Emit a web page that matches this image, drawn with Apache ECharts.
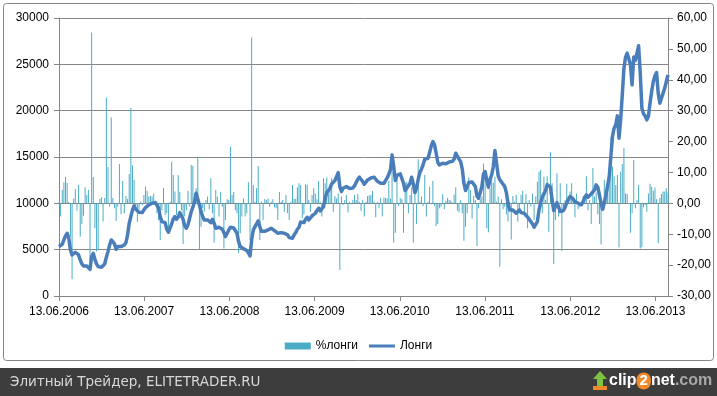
<!DOCTYPE html>
<html>
<head>
<meta charset="utf-8">
<script src="https://cdn.jsdelivr.net/npm/echarts@6/dist/echarts.min.js"></script>
<style>
  html, body { margin: 0; padding: 0; background: #fff; }
  #chart { width: 717px; height: 396px; }
</style>
</head>
<body>
<div id="chart"></div>
<script>
// weekly COT-style data, Tuesdays from 13.06.2006
const seriesNames = ['%лонги', 'Лонги']
const startDate = Date.UTC(2006, 5, 13)
const weekMs = 7 * 24 * 3600 * 1000
const tickYears = [2006, 2007, 2008, 2009, 2010, 2011, 2012, 2013]
const footerText = 'Элитный Трейдер, ELITETRADER.RU'

// Лонги (left axis)
const longs = [
  5330, 5400, 5600, 6050, 6480, 6770, 6230, 4970, 4430, 4600, 4720, 4680, 4430, 3890, 3460, 3240,
  3170, 3240, 3350, 2880, 4250, 4600, 3960, 3460, 3170, 3100, 3100, 3170, 3460, 4180, 4790, 5500,
  6050, 5980, 5620, 5040, 5330, 5470, 5330, 5400, 5500, 5760, 6590, 7850, 8570, 9290, 9720,
  9360, 9220, 9040, 8930, 9000, 9290, 9540, 9720, 9830, 9900, 10010, 10150, 10080, 9940, 9470, 8570,
  8030, 8140, 7920, 7200, 6880, 6950, 7780, 8320, 8570, 8280, 8500, 9000, 8930, 8280, 7560, 7310,
  7670, 8390, 9110, 9580, 10190, 11090, 10910, 9830, 9110, 8570, 8210, 8030, 8210, 8280, 7920,
  8280, 7850, 7310, 7420, 7420, 7310, 7200, 6840, 6410, 6590, 7130, 7420, 7490, 7340, 7060, 6770,
  5870, 5330, 5180, 5110, 4970, 4900, 4680, 4320, 6050, 7130, 7310, 7780, 8100, 7490, 6980, 6980,
  6980, 7060, 7130, 7200, 7310, 7200, 7060, 6910, 6770, 6770, 6840, 6840, 6770, 6770, 6590, 6300,
  6300, 6230, 6590, 6840, 7200, 7420, 7990, 7780, 7920, 8280, 8500, 8210, 8420, 8640, 8710, 8930,
  9220, 9470, 9180, 9000, 9650, 10550, 11160, 11380, 11630, 12100, 12060, 12460, 12890, 13320, 11810, 11270,
  11630, 11630, 11810, 11630, 11590, 11630, 11660, 11880, 12240, 12600, 12820, 12670, 12350, 12060, 12240, 12530,
  12600, 12740, 12820, 12820, 12600, 12380, 12240, 12170, 12020, 12170, 12460, 12740, 13140, 13610, 15230, 13970,
  12460, 13030, 13070, 13180, 13070, 12170, 11380, 11630, 11450, 12170, 12820, 12100, 11160, 11630, 12600, 13320,
  13680, 14150, 14760, 14760, 14870, 15480, 16200, 16670, 16310, 15410, 14400, 14150, 14220, 14330, 14220, 14260,
  14330, 14470, 14470, 14540, 14760, 15410, 15410, 14760, 14510, 13680, 12170, 11380, 11520, 12240, 12380, 12310,
  12240, 11810, 10800, 10550, 10730, 11810, 13180, 13430, 12530, 11740, 12600, 13070, 13970, 15700, 15700, 12960,
  12530, 12310, 12100, 11810, 11160, 10010, 9290, 9110, 9290, 9220, 8930, 9070, 9290, 9000, 9110, 8930,
  8780, 8500, 8280, 8100, 7780, 7420, 7340, 8030, 9290, 10080, 10660, 11020, 11380, 12020, 12170, 11740,
  10440, 9220, 9430, 10080, 10190, 9110, 8930, 9220, 9580, 10080, 10440, 10730, 10730, 10440, 10150, 10010,
  10010, 9940, 9860, 10150, 10660, 10910, 10660, 10660, 11020, 11160, 11450, 11990, 11740, 10910, 10010,
  9360, 10080, 10910, 11880, 12890, 15050, 17210, 18110, 18470, 19440, 17030, 19010, 21710, 24590, 25780, 26210,
  26140, 24950, 22790, 25780, 25420, 25560, 27000, 24050, 20270, 19660, 19440, 19010, 19370, 20810, 22070, 23150,
  23760, 24120, 21890, 20810, 21350, 21890, 22430, 23150, 23870
]

// %лонги (right axis)
const pctLongs = [
  0.3, -4.3, 4.3, 6.8, 8.5, 6.6, 0.4, -10.8, -24.6, 1.6, 4.6, -2.4, 5.9, -10.8, -6.7, -4.0,
  5.2, 2.7, 4.3, -22.0, 55.3, 8.5, -8.1, -15.5, -15.1, 1.4, 2.0, -5.9, 1.7, 34.3, 11.8, -1.0,
  27.8, 1.7, -1.6, -5.7, -1.0, 12.7, -3.5, 7.2, -3.2, 2.4, 1.4, 9.5, 30.9, 12.3, 7.6,
  -1.0, -6.0, -2.0, 0.5, -0.5, 2.7, 5.4, 4.1, 2.2, 2.4, 2.2, 3.2, -0.5, -3.2, -5.4, -11.9,
  -2.2, 5.0, -3.8, -3.2, -9.7, 0.5, 13.5, 9.2, 3.8, -3.8, 9.1, 3.7, -2.2, -13.2, -4.3, -2.2,
  4.1, -1.0, 12.4, 12.2, 3.2, 4.9, 15.1, -15.1, -7.6, -1.6, -2.7, 1.1, 2.2, -1.9, 8.1,
  -3.2, -12.7, 4.3, 2.2, -4.3, 3.7, -1.1, -14.6, -5.4, 1.3, 1.1, 18.3, 2.7, 3.7, -2.2, -3.2,
  -16.2, -9.7, -4.3, 1.6, -4.3, -3.2, 6.8, -11.9, 53.7, 5.9, 0.5, 4.9, 12.1, -11.9, 0.5, -5.4,
  1.4, 1.1, 1.6, -1.1, 0.5, 1.3, -1.3, -1.6, -5.4, 3.7, 0.5, 1.1, -2.7, 2.7, -3.2, -5.4,
  0.5, 5.9, 1.6, 1.4, 5.2, 6.5, 5.9, -4.9, -3.6, 6.1, 6.1, 1.1, -2.7, 2.7, 4.9, 3.2,
  1.3, 7.2, 0.5, -4.3, 8.1, 6.5, 8.4, 3.2, 5.4, 8.1, -2.7, 2.4, 1.6, 3.2, -21.6, 2.2,
  -0.5, 1.1, 2.7, -3.0, 0.5, -0.3, 1.1, 2.7, 1.1, 3.0, 0.5, -2.4, 1.1, -4.3, 0.5, 2.4,
  2.5, 2.7, 4.0, 0.5, -4.5, 0.4, -1.6, 1.7, -4.3, 1.9, 1.8, 1.6, 7.2, 1.6, 10.2, -12.7,
  -9.5, 9.5, -0.9, 1.7, 1.3, -9.5, 6.7, 7.0, -3.2, 2.7, 5.1, -12.7, 4.3, -6.7, 14.3, 0.5,
  2.2, -0.9, 9.2, -4.3, 0.5, 5.4, -0.3, 7.2, -0.9, -7.3, -6.7, -1.6, -1.1, 3.0, -1.9, 0.8,
  1.8, 1.1, 0.9, 0.3, 2.9, 5.2, -2.4, -3.0, 1.1, -3.2, -12.1, -7.6, -3.2, 8.4, 4.3, -4.9,
  2.4, 1.1, -13.8, -1.6, 1.4, 2.2, 12.9, 8.6, -8.1, -9.4, 4.9, 8.6, 6.7, 8.6, 0.5, 2.2,
  -20.5, 1.3, -1.9, -1.1, -3.5, -5.9, 0.5, -11.7, 2.4, 0.5, 2.7, -5.9, -1.6, 2.8, 4.1, -4.3,
  3.0, -8.1, 1.1, -1.1, 3.2, -5.4, 2.2, 7.0, 10.2, 10.8, -3.2, 8.6, 1.1, 8.8, -9.2, 16.6,
  6.5, -19.6, -5.4, 9.7, -4.3, 6.5, -15.4, -2.7, 1.1, 6.3, 2.4, 3.8, 6.5, 2.2, -4.5, 3.2,
  -1.9, -1.3, 0.5, 2.2, 2.7, 8.8, -2.2, 1.1, -6.7, 11.4, 2.2, 3.5, -3.5, -6.7, -13.3,
  0.5, 7.6, 2.2, 3.2, 10.2, 21.3, 11.9, 8.8, 5.9, 9.2, -14.3, 10.2, 12.7, 17.9, 3.2, 3.0,
  -0.2, -9.5, -3.2, 14.0, -1.6, 1.1, 5.9, -14.6, -14.2, -1.3, -0.5, -2.7, 3.2, 6.3, 5.4, 4.1,
  5.1, 1.3, -12.9, 1.7, 3.0, 3.8, 3.8, 4.9, 3.5
]

const weeks = longs.map((v, i) => startDate + i * weekMs)
const tickValues = tickYears.map(y => Date.UTC(y, 5, 13))

const pad = n => (n < 10 ? '0' : '') + n
const fmtDate = v => {
  const d = new Date(v)
  return pad(d.getUTCDate()) + '.' + pad(d.getUTCMonth() + 1) + '.' + d.getUTCFullYear()
}

const axisColor = '#868686'
const lineColor = '#4A7EBB'
const font = 'Liberation Sans'

const chart = echarts.init(document.getElementById('chart'))
chart.setOption({
  animation: false,
  backgroundColor: '#fff',
  grid: { left: 59, right: 49, top: 18, bottom: 100 },
  legend: {
    top: 335,
    left: 'center',
    itemWidth: 26,
    itemHeight: 7,
    itemGap: 11,
    textStyle: { fontSize: 12, color: '#000', fontFamily: font },
    data: [
      { name: seriesNames[0], icon: 'rect' },
      // тонкая линия посередине значка
      { name: seriesNames[1], icon: 'path://M0,0H26V0.05H0Z M0,2H26V5H0Z M0,6.95H26V7H0Z', itemStyle: { color: lineColor } }
    ]
  },
  // ось дат: значения - метки времени, подписи 13.06 каждого года
  xAxis: {
    type: 'value',
    min: weeks[0],
    max: weeks[weeks.length - 1],
    axisLine: { lineStyle: { color: axisColor } },
    axisTick: { show: true, customValues: tickValues, length: 5, lineStyle: { color: axisColor } },
    axisLabel: { customValues: tickValues, formatter: fmtDate, color: '#000', fontSize: 12, margin: 10, fontFamily: font },
    splitLine: { show: false }
  },
  yAxis: [
    {
      type: 'value',
      position: 'left',
      min: 0,
      max: 30000,
      interval: 5000,
      axisLine: { show: true, lineStyle: { color: axisColor } },
      axisTick: { show: true, length: 5, lineStyle: { color: axisColor } },
      axisLabel: { color: '#000', fontSize: 12, margin: 10, fontFamily: font, formatter: v => String(v) },
      splitLine: { show: true, lineStyle: { color: axisColor } }
    },
    {
      type: 'value',
      position: 'right',
      min: -30,
      max: 60,
      interval: 10,
      axisLine: { show: true, lineStyle: { color: axisColor } },
      axisTick: { show: true, length: 5, lineStyle: { color: axisColor } },
      axisLabel: {
        color: '#000', fontSize: 12, margin: 9, fontFamily: font,
        formatter: v => v.toFixed(2).replace('.', ',')
      },
      splitLine: { show: false }
    }
  ],
  series: [
    {
      name: seriesNames[0],
      type: 'bar',
      yAxisIndex: 1,
      barWidth: 1,
      itemStyle: { color: '#4BACC6' },
      data: weeks.map((t, i) => [t, pctLongs[i]]),
      z: 2
    },
    {
      name: seriesNames[1],
      type: 'line',
      yAxisIndex: 0,
      symbol: 'none',
      lineStyle: { width: 3.5, color: lineColor, join: 'round' },
      itemStyle: { color: lineColor },
      data: weeks.map((t, i) => [t, longs[i]]),
      z: 3
    }
  ],
  graphic: [
    // рамка области диаграммы
    {
      type: 'rect', silent: true, z: -1,
      shape: { x: 3.5, y: 3.5, width: 710, height: 357, r: 3 },
      style: { fill: 'none', stroke: axisColor, lineWidth: 1 }
    },
    // нижняя плашка
    {
      type: 'rect', silent: true,
      shape: { x: 0, y: 368, width: 717, height: 28 },
      style: { fill: '#3d3d3d' }
    },
    {
      type: 'text', silent: true, x: 10, y: 382,
      style: { text: footerText, fill: '#d8d8d8', font: '13.5px "DejaVu Sans"', verticalAlign: 'middle' }
    },
    // значок clip2net
    {
      type: 'polygon', silent: true,
      shape: { points: [[600, 371], [607, 379], [603, 379], [603, 386], [597, 386], [597, 379], [593, 379]] },
      style: { fill: '#7cc243' }
    },
    {
      type: 'rect', silent: true,
      shape: { x: 593, y: 386, width: 14, height: 4 },
      style: { fill: '#f0892a' }
    },
    {
      type: 'text', silent: true, x: 609, y: 381,
      style: {
        text: '{a|clip}{b|2}{a|net}{c|.com}',
        verticalAlign: 'middle',
        rich: {
          a: { fill: '#ffffff', font: 'bold 16px "Liberation Sans"' },
          b: { fill: '#ffffff', font: 'bold 15px "Liberation Sans"', backgroundColor: '#f0892a', borderRadius: 9, padding: [1, 3, 1, 3] },
          c: { fill: '#a8a8a8', font: 'bold 16px "Liberation Sans"' }
        }
      }
    }
  ]
})
</script>
</body>
</html>
